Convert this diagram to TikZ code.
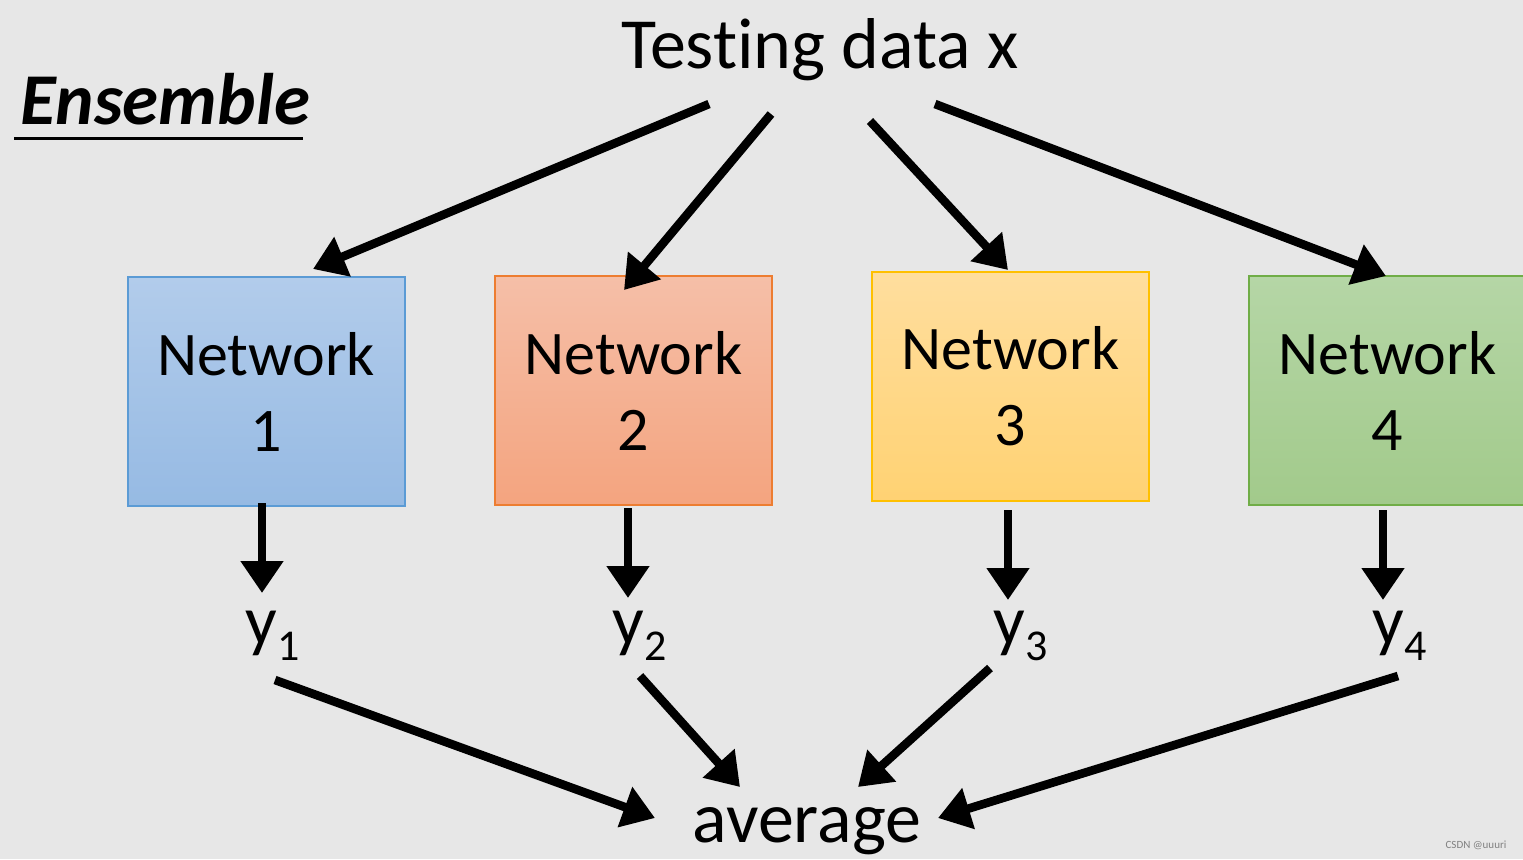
\documentclass[tikz,border=0pt]{standalone}
\usepackage{fontspec}
\setmainfont[Ligatures={NoCommon}]{Carlito}
\usetikzlibrary{arrows.meta}
\definecolor{bg}{HTML}{E7E7E7}
\definecolor{b1top}{HTML}{B2CCEB}\definecolor{b1bot}{HTML}{96BAE3}\definecolor{b1line}{HTML}{5B9BD5}
\definecolor{b2top}{HTML}{F5BFA8}\definecolor{b2bot}{HTML}{F4A47F}\definecolor{b2line}{HTML}{ED7D31}
\definecolor{b3top}{HTML}{FFDE9E}\definecolor{b3bot}{HTML}{FFD273}\definecolor{b3line}{HTML}{FFC000}
\definecolor{b4top}{HTML}{B5D6A6}\definecolor{b4bot}{HTML}{A2CA8B}\definecolor{b4line}{HTML}{70AD47}
\begin{document}
\begin{tikzpicture}[x=0.5pt,y=-0.5pt,
  arr/.style={line width=4.3pt,-{Triangle[length=16pt,width=20.5pt]}},
  netbox/.style={draw,line width=1pt,minimum width=138.5pt,minimum height=114.5pt,
    align=center,inner sep=0pt,font=\fontsize{31}{38}\selectfont},
  bigtext/.style={font=\fontsize{36}{40}\selectfont,inner sep=0pt,anchor=base},
  ylab/.style={font=\fontsize{35}{40}\selectfont,inner sep=0pt,anchor=base west}]
\newcommand{\sub}[1]{\raisebox{-8pt}{\fontsize{22}{22}\selectfont #1}}
\fill[bg] (0,0) rectangle (1523,859);
\useasboundingbox (0,0) rectangle (1523,859);
\clip (0,0) rectangle (1523,859);
% title
\node[font=\fontsize{36.5}{40}\selectfont\bfseries\itshape,inner sep=0pt,anchor=base west] (ens) at (20,124) {Ensemble};
\draw[line width=1.5pt] (14,138) -- (303,138);
% top text
\node[bigtext] (td) at (820,68) {Test\kern0pt ing data x};
% boxes
\node[netbox,top color=b1top,bottom color=b1bot,draw=b1line] (n1) at (266,391.5) {Network\\1};
\node[netbox,top color=b2top,bottom color=b2bot,draw=b2line] (n2) at (633.5,390.5) {Network\\2};
\node[netbox,top color=b3top,bottom color=b3bot,draw=b3line] (n3) at (1010.5,386.5) {Network\\3};
\node[netbox,top color=b4top,bottom color=b4bot,draw=b4line] (n4) at (1387.5,390.5) {Network\\4};
% outputs
\node[ylab] (y1) at (245,644) {y\sub{1}};
\node[ylab] (y2) at (612,644) {y\sub{2}};
\node[ylab] (y3) at (993,644) {y\sub{3}};
\node[ylab] (y4) at (1372,644) {y\sub{4}};
\node[bigtext] (avg) at (807,842) {average};
\node[font=\fontsize{5.5}{6}\selectfont,text=gray,inner sep=0pt] (wm) at (1476,845) {CSDN @uuuri};
% connector endpoints
\coordinate (t1) at (709,104); \coordinate (h1) at (313,269);
\coordinate (t2) at (771,114); \coordinate (h2) at (624,290);
\coordinate (t3) at (870,121); \coordinate (h3) at (1008,270);
\coordinate (t4) at (935,104); \coordinate (h4) at (1386,276);
\coordinate (d1s) at (262,503); \coordinate (d1e) at (262,593);
\coordinate (d2s) at (628,508); \coordinate (d2e) at (628,598);
\coordinate (d3s) at (1008,510); \coordinate (d3e) at (1008,600);
\coordinate (d4s) at (1383,510); \coordinate (d4e) at (1383,600);
\coordinate (b1s) at (275,680); \coordinate (b1e) at (655,818);
\coordinate (b2s) at (640,676); \coordinate (b2e) at (740,787);
\coordinate (b3s) at (990,668); \coordinate (b3e) at (858,787);
\coordinate (b4s) at (1398,676); \coordinate (b4e) at (938,818);
\foreach \s/\e in {t1/h1,t2/h2,t3/h3,t4/h4,d1s/d1e,d2s/d2e,d3s/d3e,d4s/d4e,b1s/b1e,b2s/b2e,b3s/b3e,b4s/b4e}
  \draw[arr] (\s) -- (\e);
\end{tikzpicture}
\end{document}
